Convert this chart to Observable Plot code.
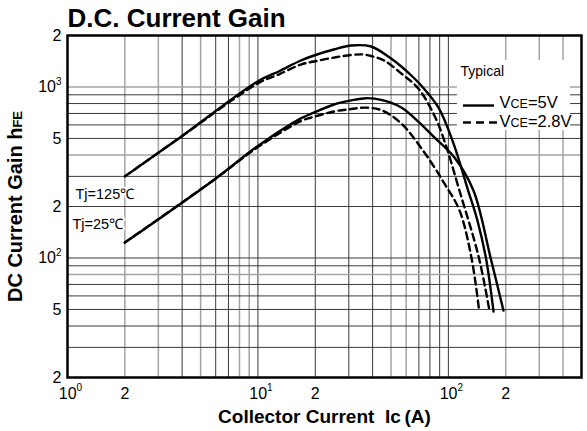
<!DOCTYPE html>
<html><head><meta charset="utf-8">
<script src="https://cdn.jsdelivr.net/npm/d3@7"></script>
<script src="https://cdn.jsdelivr.net/npm/@observablehq/plot@0.6"></script>
<style>body{margin:0;background:#fff}</style>
</head><body><div id="chart"></div><script>
// Axis ticks and labels
const xTicks = [1, 2, 5, 10, 20, 50, 100, 200, 500];
const xTickLabels = ["10^0", "2", "5", "10^1", "2", "5", "10^2", "2", "5"];
const yTicks = [20, 50, 100, 200, 500, 1000, 2000];
const yTickLabels = ["2", "5", "10^2", "2", "5", "10^3", "2"];
// Grid lines
const xGridDark = [4, 6, 7, 10, 20, 30, 40, 70, 80, 90, 100];
const xGridGray = [2, 3, 5, 8, 9, 50, 60, 200, 300, 400];
const yGridDark = [30, 40, 50, 60, 70, 90, 100, 200, 300, 500, 600, 700, 800, 900];
const yGridGray = [80, 400, 1000];

// Tj = 125C, VCE = 5V (solid)
const ic125_5V  = [2, 3.78, 10, 13, 16.8, 19.7, 25, 30.9, 39.3, 50, 56.6, 63.9, 72, 88.6, 106, 127, 142, 158, 172.6];
const hfe125_5V = [300, 494, 1080, 1240, 1428, 1528, 1656, 1748, 1725, 1467, 1318, 1167, 1020, 759, 473, 248, 166, 98, 48.6];
// Tj = 125C, VCE = 2.8V (dashed)
const ic125_28V  = [2, 3.78, 10, 13, 16.8, 19.7, 25.1, 30.9, 35.7, 39.3, 46, 56.6, 69.5, 84.4, 95.2, 114.3, 144.4, 164.3];
const hfe125_28V = [300, 494, 1050, 1190, 1353, 1409, 1486, 1538, 1549, 1517, 1428, 1199, 980, 681, 486, 248, 101, 49.3];
// Tj = 25C, VCE = 5V (solid)
const ic25_5V  = [2, 5.89, 10, 16.8, 19, 25.1, 30.9, 37, 45, 56.6, 69.5, 84.4, 107.6, 135.4, 166.4, 194.6];
const hfe25_5V = [123, 287, 452, 655, 697, 790, 835, 860, 838, 759, 628, 507, 387, 248, 100.7, 49.3];
// Tj = 25C, VCE = 2.8V (dashed)
const ic25_28V  = [2, 5.89, 10, 16.8, 19, 25.1, 30.9, 37, 45, 56.6, 74.8, 95.2, 114.3, 132.1, 144.4];
const hfe25_28V = [123, 287, 445, 632, 662, 719, 743, 757, 728, 611, 414, 273, 190, 100.7, 51.3];

const tjLabels = ["Tj=125℃", "Tj=25℃"];
const legendTitle = "Typical";
const legendLabels = ["VCE=5V", "VCE=2.8V"];
const title = "D.C. Current Gain";
const yLabel = "DC Current Gain hFE";
const xLabel = "Collector Current\u00a0\u00a0Ic\u2009(A)";

const toRows = (ic, hfe, key) => ic.map((x, i) => ({ic: x, hfe: hfe[i], key}));
const solidRows = [...toRows(ic125_5V, hfe125_5V, "125"), ...toRows(ic25_5V, hfe25_5V, "25")];
const dashedRows = [...toRows(ic125_28V, hfe125_28V, "125"), ...toRows(ic25_28V, hfe25_28V, "25")];

const xFmt = d => xTickLabels[xTicks.indexOf(d)];
const yFmt = d => yTickLabels[yTicks.indexOf(d)];
const isPow = s => s.startsWith("10");

const dark = "#3a3a3a", gray = "#a3a3a3";
const chart = Plot.plot({
  width: 587, height: 431,
  marginLeft: 67, marginRight: 6, marginTop: 35, marginBottom: 54,
  x: {type: "log", domain: [1, 500]},
  y: {type: "log", domain: [20, 2000]},
  style: {fontFamily: "'Liberation Sans', Arial, sans-serif", fontSize: "16px", background: "white", color: "black"},
  marks: [
    Plot.ruleX(xGridGray, {stroke: gray, strokeWidth: 1.5}),
    Plot.ruleX(xGridDark, {stroke: dark, strokeWidth: 1}),
    Plot.ruleY(yGridGray, {stroke: gray, strokeWidth: 1.5}),
    Plot.ruleY(yGridDark, {stroke: dark, strokeWidth: 1}),
    // white box behind the legend
    Plot.rect([0], {x1: 111.5, x2: 438, y1: 556, y2: 1428, fill: "white"}),
    Plot.line(solidRows, {x: "ic", y: "hfe", z: "key", stroke: "black", strokeWidth: 2.4, curve: "catmull-rom"}),
    Plot.line(dashedRows, {x: "ic", y: "hfe", z: "key", stroke: "black", strokeWidth: 2.4, strokeDasharray: "7,4.5", curve: "catmull-rom"}),
    // legend swatches
    Plot.ruleY([779], {x1: 120, x2: 174.6, stroke: "black", strokeWidth: 2.4}),
    Plot.ruleY([620], {x1: 120, x2: 183.4, stroke: "black", strokeWidth: 2.4, strokeDasharray: "8,5"}),
    Plot.frame({stroke: "black", strokeWidth: 2.5}),
    Plot.axisX({ticks: xTicks.filter(d => !isPow(xFmt(d))), tickFormat: xFmt, tickSize: 0, tickPadding: 10, fontSize: 16, label: null}),
    Plot.axisX({ticks: xTicks.filter(d => isPow(xFmt(d))), tickFormat: xFmt, tickSize: 0, tickPadding: 10, fontSize: 16, dx: 3, label: null}),
    Plot.axisY({ticks: yTicks, tickFormat: yFmt, tickSize: 0, tickPadding: 6, fontSize: 16, label: null}),
    Plot.text([title], {text: d => d, frameAnchor: "top-left", dy: -27, lineAnchor: "top", textAnchor: "start", fontSize: 26, fontWeight: "bold"}),
    Plot.text([yLabel], {text: d => d, frameAnchor: "left", dx: -52, rotate: -90, textAnchor: "middle", lineAnchor: "middle", fontSize: 20, fontWeight: "bold"}),
    Plot.text([xLabel], {text: d => d, frameAnchor: "bottom", dy: 32, lineAnchor: "top", textAnchor: "middle", fontSize: 19, fontWeight: "bold", letterSpacing: "0.3px"}),
    Plot.text([tjLabels[0]], {text: d => d, frameAnchor: "top-left", dx: 8, dy: 159, textAnchor: "start", lineAnchor: "middle", fontSize: 14.5, fill: "black", stroke: "white", strokeWidth: 4, paintOrder: "stroke"}),
    Plot.text([tjLabels[1]], {text: d => d, frameAnchor: "top-left", dx: 5, dy: 189, textAnchor: "start", lineAnchor: "middle", fontSize: 14.5, fill: "black", stroke: "white", strokeWidth: 4, paintOrder: "stroke"}),
    Plot.text([legendTitle], {text: d => d, frameAnchor: "top-left", dx: 393, dy: 36, textAnchor: "start", lineAnchor: "middle", fontSize: 14}),
    Plot.text([legendLabels[0]], {text: d => d, frameAnchor: "top-left", dx: 432, dy: 67.5, textAnchor: "start", lineAnchor: "middle", fontSize: 16.5}),
    Plot.text([legendLabels[1]], {text: d => d, frameAnchor: "top-left", dx: 432, dy: 86.5, textAnchor: "start", lineAnchor: "middle", fontSize: 16.5})
  ]
});

// rich text: superscripts / small caps
d3.select(chart).selectAll("text").each(function() {
  const el = d3.select(this);
  const t = this.textContent;
  const m = /^10\^(\d)$/.exec(t);
  if (m) { el.text("10"); el.append("tspan").attr("font-size", 10).attr("dy", "-0.75em").text(m[1]); return; }
  if (t === yLabel) { el.text("DC Current Gain h"); el.append("tspan").attr("font-size", 13).text("FE"); return; }
  const v = /^VCE(=.*)$/.exec(t);
  if (v) { el.text("V"); el.append("tspan").attr("font-size", 12.5).text("CE"); el.append("tspan").text(v[1]); }
});
document.getElementById("chart").appendChild(chart);
</script></body></html>
